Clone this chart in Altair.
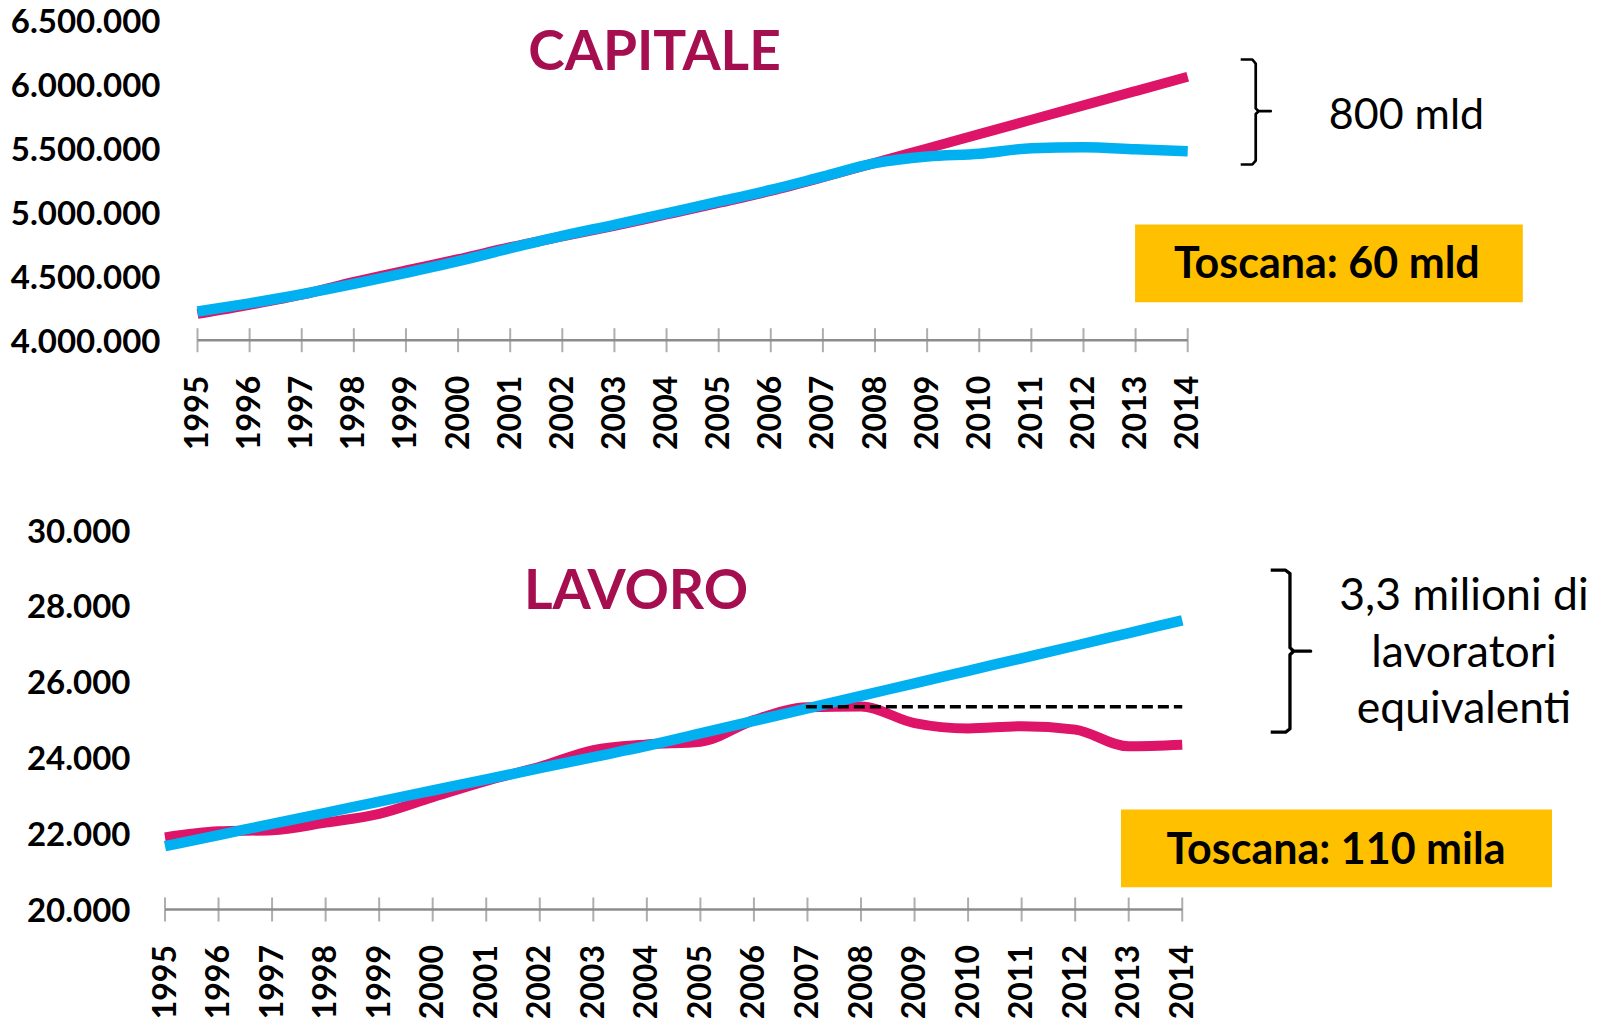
import altair as alt
import pandas as pd

# ---------------- data ----------------
years = list(range(1995, 2015))

capitale_rosa = [4205000, 4276000, 4355000, 4455000, 4545000, 4632000, 4726000, 4810000,
                 4893000, 4982000, 5072000, 5165000, 5272000, 5385000, 5497000, 5609000,
                 5721000, 5833000, 5945000, 6057000]
capitale_azzurro = [4224000, 4288000, 4359000, 4439000, 4526000, 4617000, 4718000, 4815000,
                    4901000, 4991000, 5081000, 5173000, 5277000, 5382000, 5434000, 5456000,
                    5499000, 5506000, 5491000, 5476000]

lavoro_rosa = [21900, 22060, 22090, 22290, 22520, 22960, 23390, 23760, 24200, 24350,
               24420, 24990, 25330, 25350, 24910, 24770, 24830, 24740, 24300, 24340]
lavoro_azzurro = [21668, 21962, 22255, 22549, 22842, 23136, 23430, 23723, 24017, 24310,
                  24640, 24970, 25300, 25630, 25960, 26290, 26620, 26950, 27285, 27620]

cap_y_ticks = [4000000, 4500000, 5000000, 5500000, 6000000, 6500000]
lav_y_ticks = [20000, 22000, 24000, 26000, 28000, 30000]

# annotations (in data units)
cap_title = ["CAPITALE"]
cap_title_pos = [2003.77, 6113500]
cap_gap_text = ["800 mld"]
cap_gap_pos = [2018.198, 5650500]
cap_brace_x = [2015.017, 2015.24, 2015.305, 2015.305, 2015.36, 2015.593, 2015.36, 2015.305,
               2015.305, 2015.24, 2015.017]
cap_brace_y = [6191600, 6191600, 6160000, 5810000, 5788000, 5788000, 5788000, 5766000,
               5403000, 5371800, 5371800]
cap_box = [2012.99, 2020.43, 4903400, 4296700]
cap_box_text = ["Toscana: 60 mld"]
cap_box_text_pos = [2016.67, 4487200]

lav_title = ["LAVORO"]
lav_title_pos = [2003.797, 27923]
lav_gap_text = ["3,3 milioni di", "lavoratori", "equivalenti"]
lav_gap_x = 2019.262
lav_gap_y = [27890, 26400, 24905]
lav_brace_x = [2015.652, 2015.93, 2016.012, 2016.012, 2016.08, 2016.399, 2016.08, 2016.012,
               2016.012, 2015.93, 2015.652]
lav_brace_y = [28941, 28941, 28850, 26900, 26806, 26806, 26806, 26712, 24763, 24672, 24672]
lav_box = [2012.856, 2020.906, 22635, 20588]
lav_box_text = ["Toscana: 110 mila"]
lav_box_text_pos = [2016.872, 21204]
lav_dash = [2006.97, 2014, 25342]

# ---------------- styling ----------------
PINK = "#DE1468"
BLUE = "#00B0F0"
TITLE = "#A50F50"
GOLD = "#FFC000"
GRAY = "#8C8C8C"
FONT = "Lato"

cap_x_domain = [1994.3764, 2021.2394]
lav_x_domain = [1995.0, 2021.149]
cap_y_domain = [4000000, 6500000]
lav_y_domain = [20000, 30000]

LABEL_EXPR = "replace(format(datum.value, ',.0f'), regexp(',', 'g'), '.')"


def enc_x(domain):
    return alt.X(
        "x:Q",
        title=None,
        scale=alt.Scale(domain=domain, nice=False, zero=False),
        axis=alt.Axis(values=years, format="d", labelAngle=270, labelFont=FONT,
                      labelFontWeight="bold", labelFontSize=32, labelColor="black",
                      labelPadding=35, domain=False, ticks=False, grid=False,
                      labelFlush=False, labelOverlap=False),
    )


def enc_y(domain, values, pad):
    return alt.Y(
        "y:Q",
        title=None,
        scale=alt.Scale(domain=domain, nice=False, zero=False),
        axis=alt.Axis(values=values, labelExpr=LABEL_EXPR, labelFont=FONT,
                      labelFontWeight="bold", labelFontSize=33, labelColor="black",
                      labelPadding=pad, labelOffset=2, domain=False, ticks=False,
                      grid=False, labelFlush=False, labelOverlap=False),
    )


def panel(xd, yd, yvals, ypad, rosa, azzurro, title, title_pos, gap_text, gap_x, gap_y,
          gap_size, brace_x, brace_y, brace_w, box, box_text, box_text_pos, extra, height):
    X = enc_x(xd)
    Y = enc_y(yd, yvals, ypad)
    base_line = alt.Chart(pd.DataFrame({"x": [1995], "x2": [2014], "y": [yd[0]]})).mark_rule(
        color=GRAY, strokeWidth=2.5).encode(x=X, x2="x2:Q", y=Y)
    ticks = alt.Chart(pd.DataFrame({"x": years, "y": [yd[0]] * len(years)})).mark_tick(
        orient="vertical", size=24, thickness=2, color=GRAY).encode(x=X, y=Y)
    l_rosa = alt.Chart(pd.DataFrame({"x": years, "y": rosa})).mark_line(
        color=PINK, strokeWidth=10, interpolate="monotone").encode(x=X, y=Y)
    l_azz = alt.Chart(pd.DataFrame({"x": years, "y": azzurro})).mark_line(
        color=BLUE, strokeWidth=10.5, interpolate="monotone").encode(x=X, y=Y)
    t_title = alt.Chart(pd.DataFrame({"x": [title_pos[0]], "y": [title_pos[1]], "t": title})).mark_text(
        font=FONT, fontWeight="bold", fontSize=55, color=TITLE, align="center",
        baseline="alphabetic").encode(x=X, y=Y, text="t:N")
    t_gap = alt.Chart(pd.DataFrame({"x": [gap_x] * len(gap_text), "y": gap_y, "t": gap_text})).mark_text(
        font=FONT, fontSize=gap_size, color="black", align="center",
        baseline="alphabetic").encode(x=X, y=Y, text="t:N")
    brace = alt.Chart(pd.DataFrame({"x": brace_x, "y": brace_y, "o": list(range(len(brace_x)))})).mark_line(
        color="black", strokeWidth=brace_w, interpolate="linear", strokeJoin="round").encode(
        x=X, y=Y, order="o:Q")
    rect = alt.Chart(pd.DataFrame({"x": [box[0]], "x2": [box[1]], "y": [box[2]], "y2": [box[3]]})).mark_rect(
        color=GOLD).encode(x=X, x2="x2:Q", y=Y, y2="y2:Q")
    t_box = alt.Chart(pd.DataFrame({"x": [box_text_pos[0]], "y": [box_text_pos[1]], "t": box_text})).mark_text(
        font=FONT, fontWeight="bold", fontSize=43, color="black", align="center",
        baseline="alphabetic").encode(x=X, y=Y, text="t:N")
    layers = [base_line, ticks, l_rosa, l_azz]
    if extra is not None:
        dash = alt.Chart(pd.DataFrame({"x": [extra[0]], "x2": [extra[1]], "y": [extra[2]]})).mark_rule(
            color="black", strokeWidth=3.5, strokeDash=[11, 5]).encode(x=X, x2="x2:Q", y=Y)
        layers.append(dash)
    layers += [t_title, t_gap, brace, rect, t_box]
    return alt.layer(*layers).properties(width=1400, height=height)


top = panel(cap_x_domain, cap_y_domain, cap_y_ticks, 5, capitale_rosa, capitale_azzurro,
            cap_title, cap_title_pos, cap_gap_text, cap_gap_pos[0], [cap_gap_pos[1]], 43,
            cap_brace_x, cap_brace_y, 2.7, cap_box, cap_box_text, cap_box_text_pos, None, 320.2)

bottom = panel(lav_x_domain, lav_y_domain, lav_y_ticks, 35, lavoro_rosa, lavoro_azzurro,
               lav_title, lav_title_pos, lav_gap_text, lav_gap_x, lav_gap_y, 44.5,
               lav_brace_x, lav_brace_y, 3.3, lav_box, lav_box_text, lav_box_text_pos,
               lav_dash, 379.5)

chart = alt.vconcat(top, bottom, spacing=66).resolve_scale(
    x="independent", y="independent").properties(
    padding={"top": -2, "left": 2, "right": 0, "bottom": 0}
).configure_view(strokeWidth=0)

chart.save("out.html", embed_options={"renderer": "svg", "actions": False})
